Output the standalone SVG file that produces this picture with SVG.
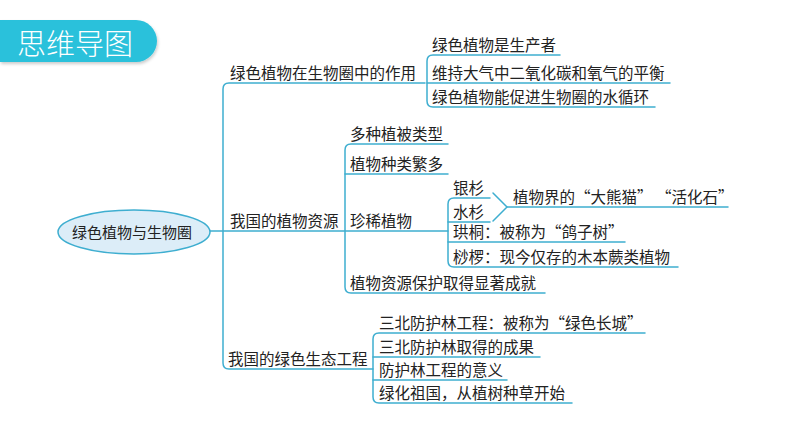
<svg xmlns="http://www.w3.org/2000/svg" width="794" height="447" viewBox="0 0 794 447">
<style>
.t{font-family:"Noto Sans CJK SC","Noto Sans CJK TC",sans-serif;font-size:15.5px;fill:#222}
.c{fill:none;stroke:#3eaed0;stroke-width:1.5;stroke-linejoin:round;stroke-linecap:round}
</style>
<defs>
<filter id="sh" x="-10%" y="-20%" width="130%" height="150%"><feDropShadow dx="1" dy="2" stdDeviation="1.5" flood-color="#000" flood-opacity="0.2"/></filter>
</defs>
<rect width="794" height="447" fill="#fff"/>
<g id="title">
<path d="M0 20 H136 A21 21 0 0 1 136 62 H0 Z" fill="#29c1db" filter="url(#sh)"/>
<text x="17" y="55" style="font-family:'Noto Sans CJK SC',sans-serif;font-size:29px;font-weight:300;fill:#fff">思维导图</text>
</g>
<g id="connectors">
<path class="c" d="M210 231 H448"/>
<path class="c" d="M425 83 H229 Q223 83 223 89 V363 Q223 369 229 369 H373"/>
<path class="c" d="M560 55 H433 Q427 55 427 61 V101 Q427 107 433 107 H655"/>
<path class="c" d="M427 83 H670"/>
<path class="c" d="M448 144 H351 Q345 144 345 150 V287 Q345 293 351 293 H545"/>
<path class="c" d="M345 174 H448"/>
<path class="c" d="M490 198 H454 Q448 198 448 204 V261 Q448 267 454 267 H678"/>
<path class="c" d="M448 222 H490"/>
<path class="c" d="M448 242 H625"/>
<path class="c" d="M493 193 L507 207 L493 221"/>
<path class="c" d="M507 207 H728"/>
<path class="c" d="M645 333 H379 Q373 333 373 339 V397 Q373 403 379 403 H572"/>
<path class="c" d="M373 357 H540"/>
<path class="c" d="M373 380 H507"/>
</g>
<g id="root">
<ellipse cx="134" cy="232" rx="76" ry="22" fill="#dcedf8" stroke="#3eaed0" stroke-width="1.5"/>
<text x="132" y="238" text-anchor="middle" style="font-family:'Noto Sans CJK SC',sans-serif;font-size:15px;fill:#222">绿色植物与生物圈</text>
</g>
<g id="b1"><text class="t" x="230" y="78.5">绿色植物在生物圈中的作用</text></g>
<g id="b1a"><text class="t" x="432" y="50.5">绿色植物是生产者</text></g>
<g id="b1b"><text class="t" x="432" y="78.5">维持大气中二氧化碳和氧气的平衡</text></g>
<g id="b1c"><text class="t" x="432" y="102.5">绿色植物能促进生物圈的水循环</text></g>
<g id="b2"><text class="t" x="230" y="226.5">我国的植物资源</text></g>
<g id="b2a"><text class="t" x="350" y="139.5">多种植被类型</text></g>
<g id="b2b"><text class="t" x="350" y="169.5">植物种类繁多</text></g>
<g id="b2c"><text class="t" x="350" y="226.5">珍稀植物</text></g>
<g id="b2d"><text class="t" x="350" y="288.5">植物资源保护取得显著成就</text></g>
<g id="b2c1"><text class="t" x="453" y="193.5">银杉</text></g>
<g id="b2c2"><text class="t" x="453" y="217.5">水杉</text></g>
<g id="b2c12"><text class="t" x="513" y="202.5">植物界的“大熊猫” “活化石”</text></g>
<g id="b2c3"><text class="t" x="453" y="237.5">珙桐：被称为“鸽子树”</text></g>
<g id="b2c4"><text class="t" x="453" y="262.5">桫椤：现今仅存的木本蕨类植物</text></g>
<g id="b3"><text class="t" x="228" y="364.5">我国的绿色生态工程</text></g>
<g id="b3a"><text class="t" x="379" y="328.5">三北防护林工程：被称为“绿色长城”</text></g>
<g id="b3b"><text class="t" x="379" y="352.5">三北防护林取得的成果</text></g>
<g id="b3c"><text class="t" x="379" y="375.5">防护林工程的意义</text></g>
<g id="b3d"><text class="t" x="379" y="398.5">绿化祖国，从植树种草开始</text></g>
</svg>
